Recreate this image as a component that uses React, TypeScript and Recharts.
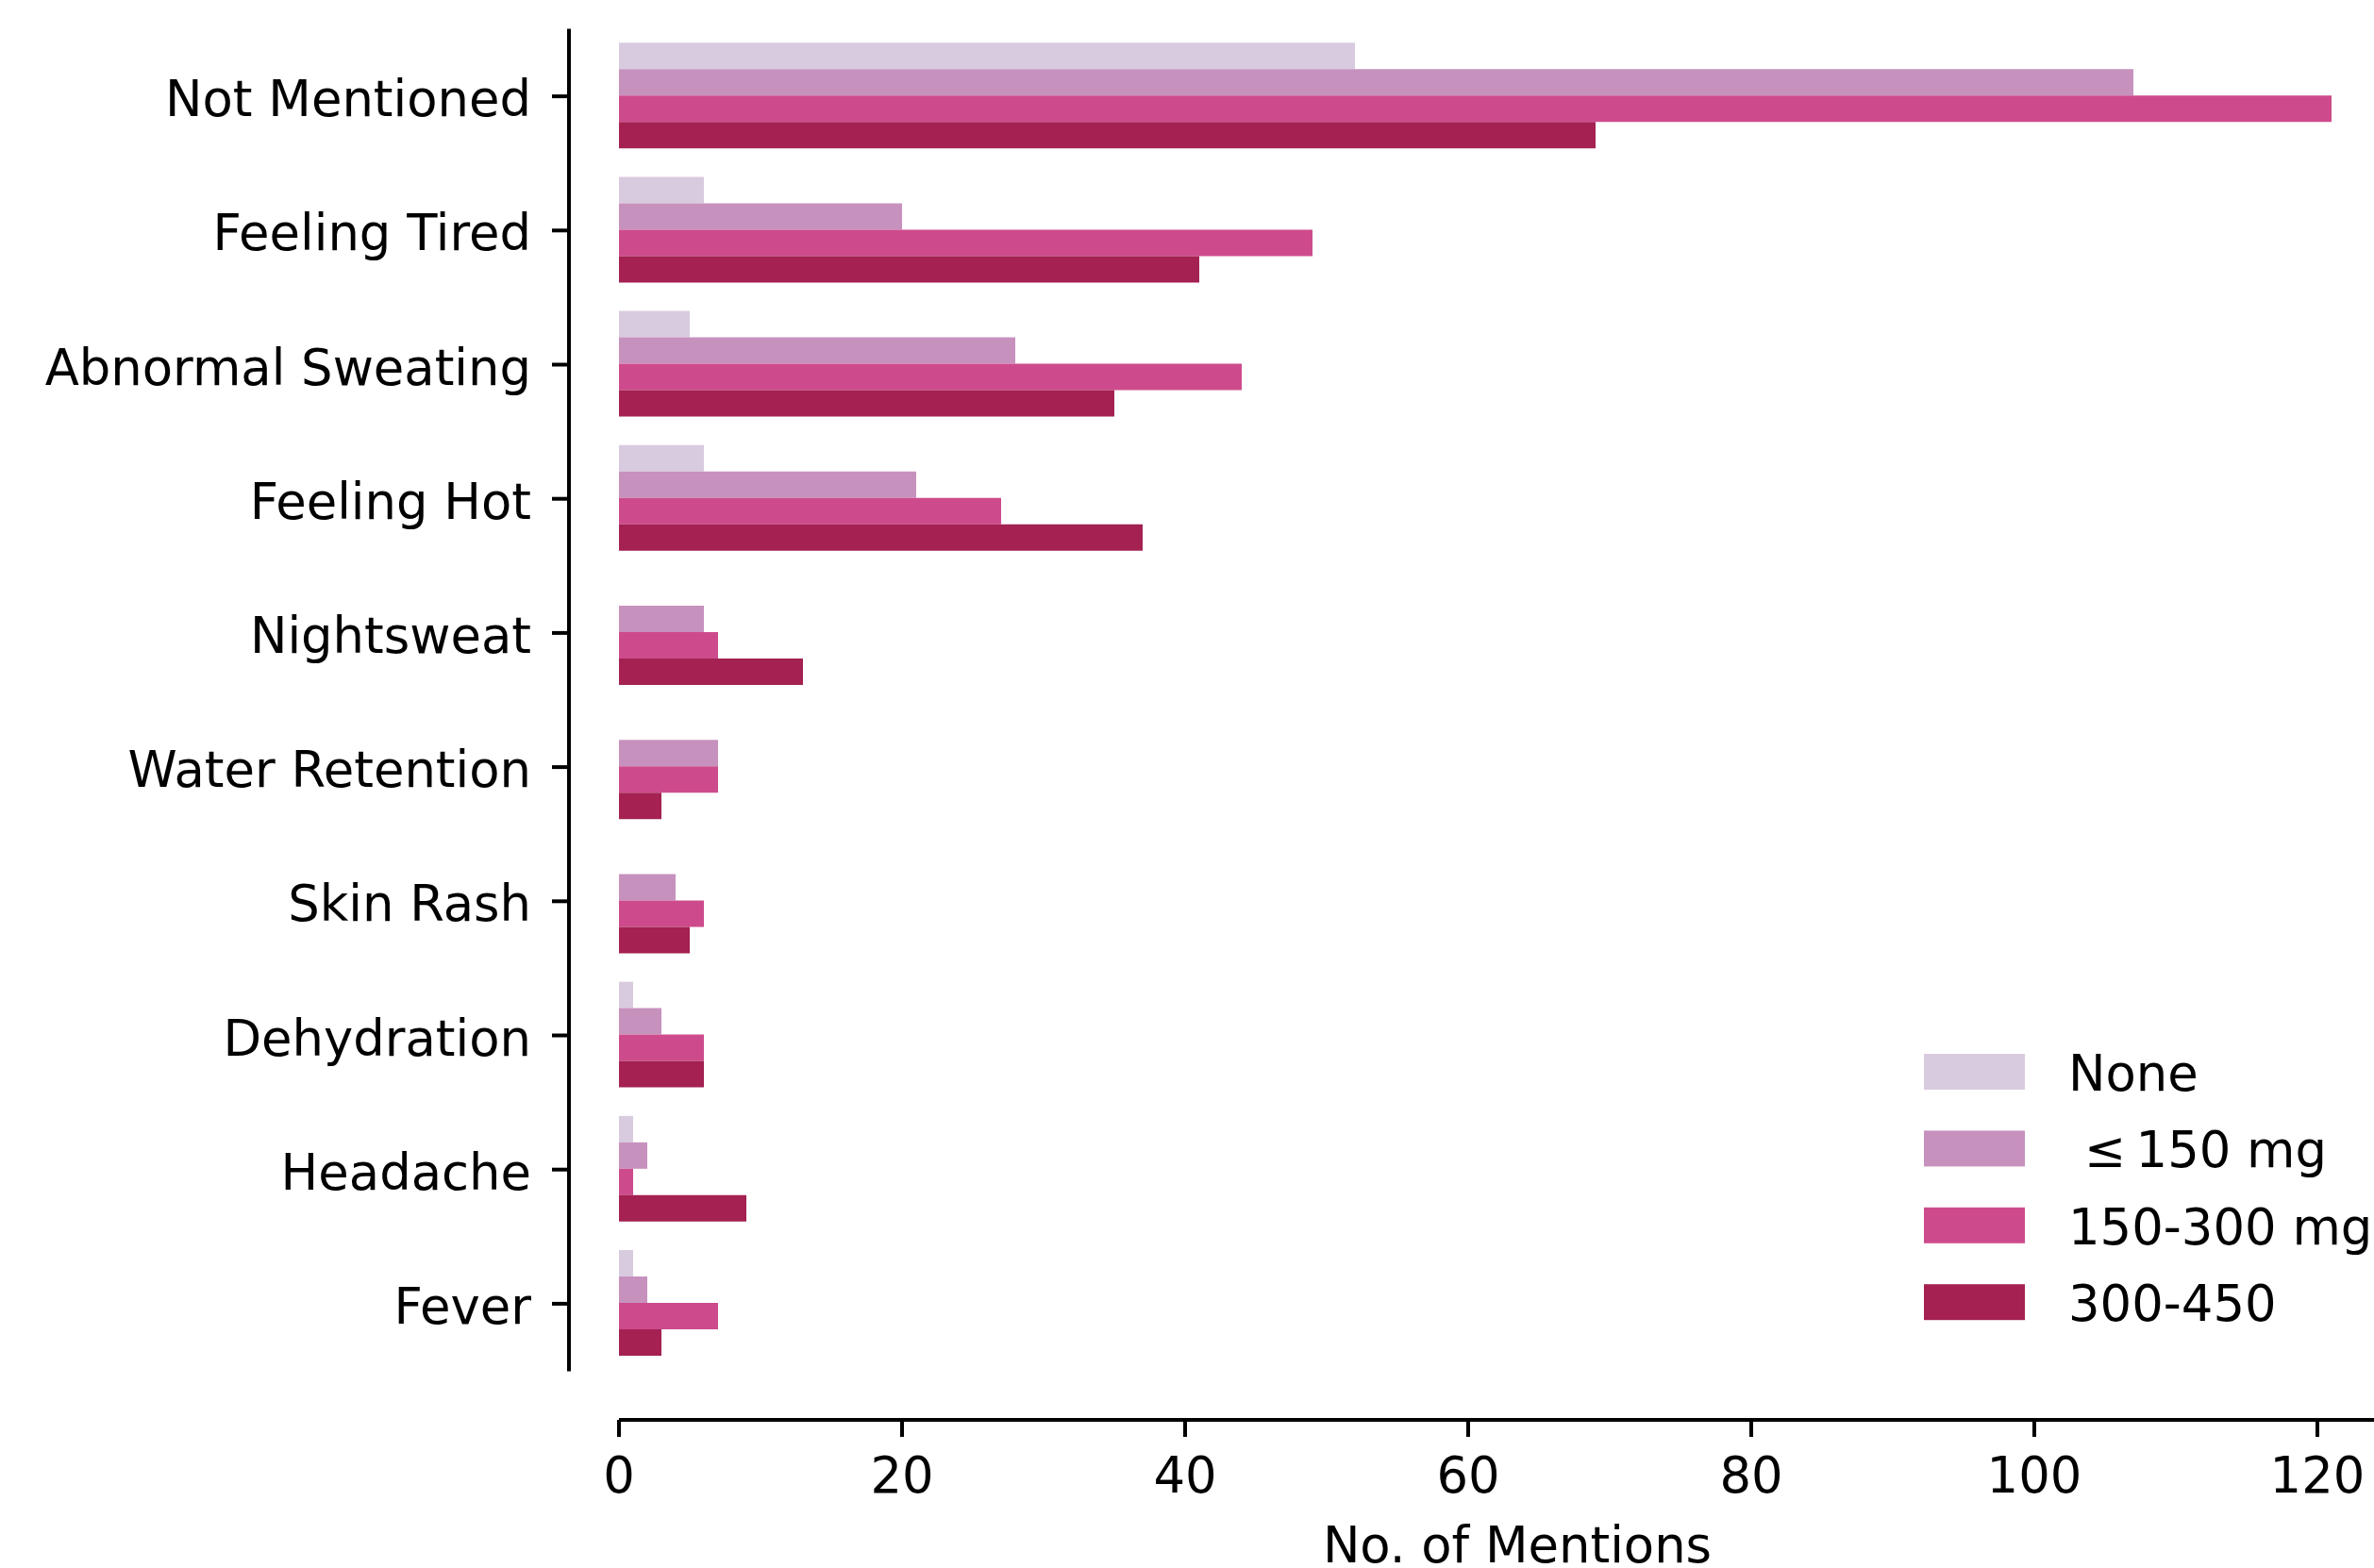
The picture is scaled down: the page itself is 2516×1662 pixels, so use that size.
import React from 'react';
import { BarChart, Bar, XAxis, YAxis } from 'recharts';

const categories = [
  'Not Mentioned',
  'Feeling Tired',
  'Abnormal Sweating',
  'Feeling Hot',
  'Nightsweat',
  'Water Retention',
  'Skin Rash',
  'Dehydration',
  'Headache',
  'Fever',
];
const noneValues = [52, 6, 5, 6, 0, 0, 0, 1, 1, 1];
const upTo150Values = [107, 20, 28, 21, 6, 7, 4, 3, 2, 2];
const from150to300Values = [121, 49, 44, 27, 7, 7, 6, 6, 1, 7];
const from300to450Values = [69, 41, 35, 37, 13, 3, 5, 6, 9, 3];

const seriesKeys = ['none', 'upTo150', 'from150to300', 'from300to450'];
const seriesNames = ['None', '\u00a0\u2264\u2009150 mg', '150-300 mg', '300-450'];
const seriesColors = ['#d9cbdf', '#c791be', '#cd4b8c', '#a42152'];
const xTicks = [0, 20, 40, 60, 80, 100, 120];
const xAxisTitle = 'No. of Mentions';

const data = categories.map((category, i) => ({
  category,
  none: noneValues[i],
  upTo150: upTo150Values[i],
  from150to300: from150to300Values[i],
  from300to450: from300to450Values[i],
}));

const FONT = 'DejaVu Sans';
const FONT_SIZE = 52.8;
const SPINE_OFFSET = 53;
const TICK_LEN = 18;
const BAND_HALF = 71.6;

const YTick = (props: any) => {
  const { x, y, payload } = props;
  const spineX = x - SPINE_OFFSET;
  return (
    <g>
      <line x1={spineX} x2={spineX} y1={y - BAND_HALF} y2={y + BAND_HALF} stroke="#000" strokeWidth={4} />
      <line x1={spineX - TICK_LEN} x2={spineX} y1={y} y2={y} stroke="#000" strokeWidth={4} />
      <text
        x={spineX - TICK_LEN - 22}
        y={y}
        dy={21}
        textAnchor="end"
        fontSize={FONT_SIZE}
        fontFamily={FONT}
        fill="#000"
      >
        {payload.value}
      </text>
    </g>
  );
};

const LegendBox = () => (
  <svg
    width={477}
    height={340}
    style={{ position: 'absolute', left: 2039, top: 1100, overflow: 'visible' }}
  >
    {seriesNames.map((name, i) => {
      const top = 17 + i * 81.4;
      return (
        <g key={name}>
          <rect x={0} y={top} width={107} height={38} fill={seriesColors[i]} />
          <text
            x={153}
            y={top + 39}
            fontSize={FONT_SIZE}
            fontFamily={FONT}
            fill="#000"
            style={{ whiteSpace: 'pre' }}
          >
            {name}
          </text>
        </g>
      );
    })}
  </svg>
);

export default function App() {
  return (
    <div style={{ position: 'absolute', left: 0, top: 0, width: 2516, height: 1662, background: '#fff' }}>
      <BarChart
        layout="vertical"
        width={2516}
        height={1662}
        data={data}
        margin={{ top: 31, right: 0, bottom: 0, left: 0 }}
        barCategoryGap="10%"
        barGap={0}
        style={{ fontFamily: FONT }}
      >
        <XAxis
          type="number"
          domain={[0, 124]}
          ticks={xTicks}
          allowDataOverflow
          height={157}
          tickSize={TICK_LEN}
          tickMargin={22}
          axisLine={{ stroke: '#000', strokeWidth: 4 }}
          tickLine={{ stroke: '#000', strokeWidth: 4 }}
          tick={{ fontSize: FONT_SIZE, fill: '#000', fontFamily: FONT }}
          label={{
            value: xAxisTitle,
            position: 'insideBottom',
            offset: 6,
            dx: 22,
            fontSize: FONT_SIZE,
            fill: '#000',
            fontFamily: FONT,
          }}
        />
        <YAxis
          type="category"
          dataKey="category"
          width={656}
          interval={0}
          tickSize={0}
          tickMargin={0}
          axisLine={false}
          tickLine={false}
          padding={{ top: 0, bottom: 52 }}
          tick={<YTick />}
        />
        {seriesKeys.map((key, i) => (
          <Bar
            key={key}
            dataKey={key}
            name={seriesNames[i]}
            fill={seriesColors[i]}
            isAnimationActive={false}
          />
        ))}
      </BarChart>
      <LegendBox />
    </div>
  );
}
